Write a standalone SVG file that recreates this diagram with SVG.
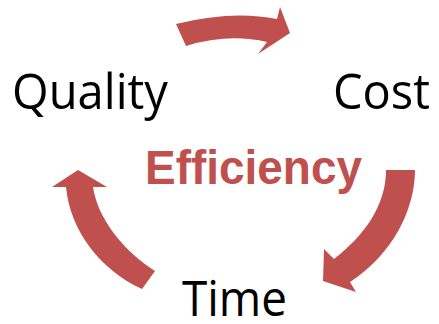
<svg xmlns="http://www.w3.org/2000/svg" width="439" height="324" viewBox="0 0 439 324">
<style>
.arrow{fill:#C0504D;stroke:none}
.lbl{font-family:"Open Sans","Noto Sans","Liberation Sans",sans-serif;font-size:50px;fill:#000}
.center{font-family:"Liberation Sans",Arial,sans-serif;font-weight:bold;font-size:49px;fill:#C0504D}
</style>
<rect width="439" height="324" fill="#fff"/>
<g id="connectors">
<path id="arrow-quality-cost" class="arrow" d="M176,24 Q232,10 277,19 L280,7 L290,33 L258,54 L267,42 Q228,33 186,46 Z"/>
<path id="arrow-cost-time" class="arrow" d="M386,170 L415,170 C415,210 392,255 350,282 L356,292 L323,281 L324,249 L334,259 C365,235 386,205 386,170 Z"/>
<path id="arrow-time-quality" class="arrow" d="M78,170 L107,187 L93,187 C98,220 125,252 155,271 L142,289 C100,270 70,230 66,187 L52,187 Z"/>
</g>
<g id="node-quality"><text class="lbl" x="12" y="109" textLength="156" lengthAdjust="spacingAndGlyphs">Quality</text></g>
<g id="node-cost"><text class="lbl" x="333" y="109" textLength="97" lengthAdjust="spacingAndGlyphs">Cost</text></g>
<g id="node-time"><text class="lbl" x="182" y="316" textLength="105" lengthAdjust="spacingAndGlyphs">Time</text></g>
<g id="node-efficiency"><text class="center" x="145" y="184" textLength="217" lengthAdjust="spacingAndGlyphs">Efficiency</text></g>
</svg>
